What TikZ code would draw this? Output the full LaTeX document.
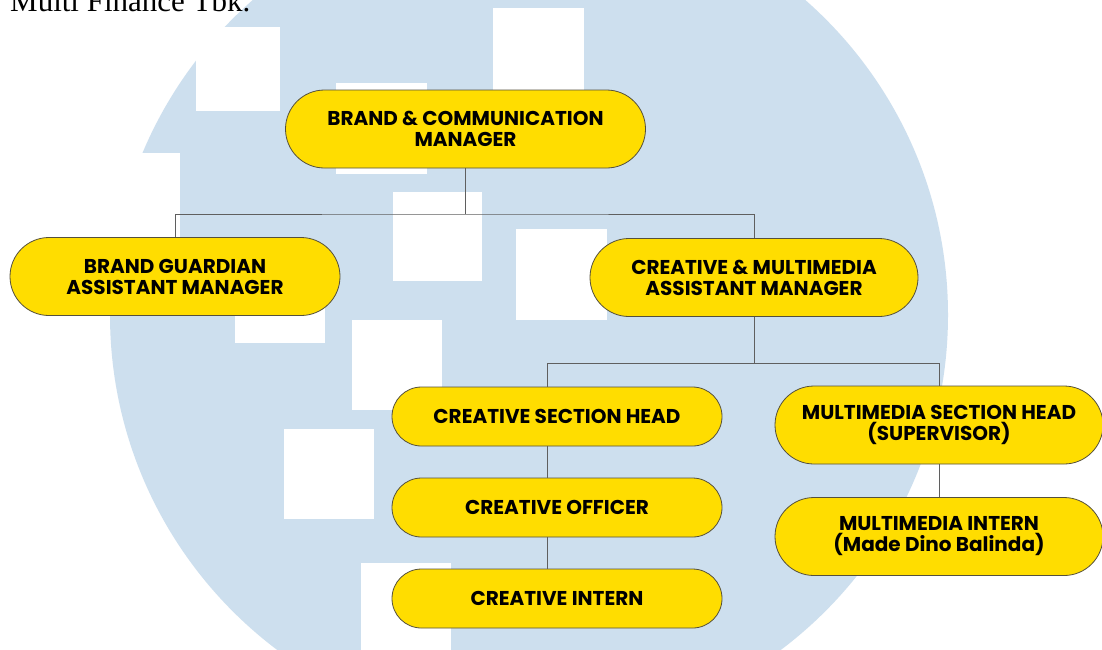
\documentclass[tikz,border=0pt]{standalone}
\usepackage{fontspec}
\usepackage{xcolor}
\usepackage{tikz}
\usetikzlibrary{shapes.misc, positioning, calc}
\newfontfamily\orgfont{Poppins}
\newfontfamily\captionfont{Liberation Serif}
\definecolor{boxfill}{RGB}{255,221,0}
\definecolor{boxdraw}{RGB}{85,80,60}
\definecolor{linkgray}{RGB}{95,95,95}
\definecolor{logoblue}{RGB}{205,223,238}
\tikzset{
    orgbox/.style={
        rounded rectangle,
        draw=boxdraw,
        line width=0.8pt,
        fill=boxfill,
        align=center,
        minimum width=330pt,
        minimum height=78pt,
        inner sep=0pt,
        font=\orgfont\bfseries\fontsize{20}{21}\selectfont
    },
    slimbox/.style={
        orgbox,
        minimum height=59pt
    },
    link/.style={
        draw=linkgray,
        line width=0.9pt
    },
    captiontext/.style={
        anchor=base west,
        inner sep=0pt,
        font=\captionfont\fontsize{31}{36}\selectfont
    }
}

\begin{document}
\begin{tikzpicture}[x=1pt, y=-1pt]

% Frame
\useasboundingbox (0,0) rectangle (1102,649);
\clip (0,0) rectangle (1102,649);
\fill[white] (0,0) rectangle (1102,649);

% Watermark
\fill[logoblue] (529,315) circle (419pt);
\foreach \x/\y/\w in {196/27/84, 336/83/91, 493/8/91, 90/153/90, 393/192/89, 516/229/91, 235/253/90, 352/320/90, 284/429/90, 361/563/90} {
    \fill[white] (\x,\y) rectangle ++(\w,\w);
}

% Caption
\node[captiontext] (caption) at (10,11) {Multi Finance Tbk.};

% Boxes
\node[orgbox, minimum width=360pt] (bcm) at (465.5,129) {BRAND \& COMMUNICATION\\MANAGER};
\node[orgbox] (bgam) at (175,276.5) {BRAND GUARDIAN\\ASSISTANT MANAGER};
\node[orgbox, minimum width=328pt] (cmam) at (754,277.5) {CREATIVE \& MULTIMEDIA\\ASSISTANT MANAGER};
\node[slimbox] (csh) at (557,416.5) {CREATIVE SECTION HEAD};
\node[slimbox] (co) at (557,507.5) {CREATIVE OFFICER};
\node[slimbox] (ci) at (557,598.5) {CREATIVE INTERN};
\node[orgbox, minimum width=328pt] (msh) at (939,425) {MULTIMEDIA SECTION HEAD\\(SUPERVISOR)};
\node[orgbox, minimum width=328pt] (mi) at (939,536.5) {MULTIMEDIA INTERN\\(Made Dino Balinda)};

% Links
\coordinate (topbus) at (465.5,214);
\coordinate (midbus) at (754,363);
\draw[link] (bcm.south) -- (topbus);
\draw[link] (bgam.north) |- (topbus) -| (cmam.north);
\draw[link] (cmam.south) -- (midbus);
\draw[link] ([xshift=-10pt]csh.north) |- (midbus) -| (msh.north);
\draw[link] ([xshift=-10pt]csh.south) -- ([xshift=-10pt]co.north);
\draw[link] ([xshift=-10pt]co.south) -- ([xshift=-10pt]ci.north);
\draw[link] (msh.south) -- (mi.north);

\end{tikzpicture}
\end{document}
